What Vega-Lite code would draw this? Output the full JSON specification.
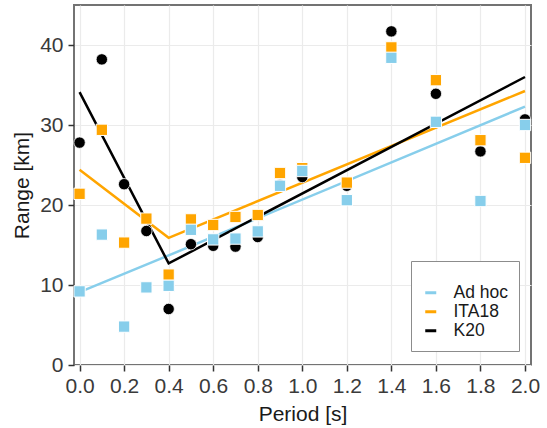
{
  "$schema": "https://vega.github.io/schema/vega-lite/v6.json",
  "width": 457,
  "height": 360,
  "autosize": {"type": "none"},
  "padding": {"left": 74, "top": 5, "right": 16, "bottom": 63},
  "background": "white",
  "config": {
    "font": "Liberation Sans",
    "view": {"stroke": "#737373", "strokeWidth": 2},
    "axis": {
      "domain": false,
      "gridColor": "#ebebeb",
      "tickColor": "#333333",
      "tickSize": 6,
      "tickWidth": 1.5,
      "labelColor": "#3a3a3a",
      "labelFontSize": 21,
      "titleFontSize": 21,
      "titleFontWeight": "normal",
      "titleColor": "#1a1a1a"
    }
  },
  "datasets": {
    "pts": [
      {"period": 0.0, "model": "K20", "range": 27.8},
      {"period": 0.1, "model": "K20", "range": 38.2},
      {"period": 0.2, "model": "K20", "range": 22.6},
      {"period": 0.3, "model": "K20", "range": 16.75},
      {"period": 0.4, "model": "K20", "range": 7.0},
      {"period": 0.5, "model": "K20", "range": 15.1},
      {"period": 0.6, "model": "K20", "range": 14.9},
      {"period": 0.7, "model": "K20", "range": 14.8},
      {"period": 0.8, "model": "K20", "range": 16.0},
      {"period": 0.9, "model": "K20", "range": 22.5},
      {"period": 1.0, "model": "K20", "range": 23.5},
      {"period": 1.2, "model": "K20", "range": 22.4},
      {"period": 1.4, "model": "K20", "range": 41.7},
      {"period": 1.6, "model": "K20", "range": 33.9},
      {"period": 1.8, "model": "K20", "range": 26.7},
      {"period": 2.0, "model": "K20", "range": 30.7},
      {"period": 0.0, "model": "ITA18", "range": 21.4},
      {"period": 0.1, "model": "ITA18", "range": 29.4},
      {"period": 0.2, "model": "ITA18", "range": 15.3},
      {"period": 0.3, "model": "ITA18", "range": 18.3},
      {"period": 0.4, "model": "ITA18", "range": 11.3},
      {"period": 0.5, "model": "ITA18", "range": 18.2},
      {"period": 0.6, "model": "ITA18", "range": 17.5},
      {"period": 0.7, "model": "ITA18", "range": 18.5},
      {"period": 0.8, "model": "ITA18", "range": 18.75},
      {"period": 0.9, "model": "ITA18", "range": 24.0},
      {"period": 1.0, "model": "ITA18", "range": 24.6},
      {"period": 1.2, "model": "ITA18", "range": 22.8},
      {"period": 1.4, "model": "ITA18", "range": 39.7},
      {"period": 1.6, "model": "ITA18", "range": 35.6},
      {"period": 1.8, "model": "ITA18", "range": 28.1},
      {"period": 2.0, "model": "ITA18", "range": 25.9},
      {"period": 0.0, "model": "Ad hoc", "range": 9.2},
      {"period": 0.1, "model": "Ad hoc", "range": 16.3},
      {"period": 0.2, "model": "Ad hoc", "range": 4.8},
      {"period": 0.3, "model": "Ad hoc", "range": 9.7},
      {"period": 0.4, "model": "Ad hoc", "range": 9.9},
      {"period": 0.5, "model": "Ad hoc", "range": 16.9},
      {"period": 0.6, "model": "Ad hoc", "range": 15.7},
      {"period": 0.7, "model": "Ad hoc", "range": 15.8},
      {"period": 0.8, "model": "Ad hoc", "range": 16.7},
      {"period": 0.9, "model": "Ad hoc", "range": 22.4},
      {"period": 1.0, "model": "Ad hoc", "range": 24.25},
      {"period": 1.2, "model": "Ad hoc", "range": 20.6},
      {"period": 1.4, "model": "Ad hoc", "range": 38.4},
      {"period": 1.6, "model": "Ad hoc", "range": 30.4},
      {"period": 1.8, "model": "Ad hoc", "range": 20.5},
      {"period": 2.0, "model": "Ad hoc", "range": 30.0}
    ],
    "fits": [
      {"period": 0.0, "model": "Ad hoc", "fit": 9.1},
      {"period": 0.4, "model": "Ad hoc", "fit": 13.7},
      {"period": 2.0, "model": "Ad hoc", "fit": 32.3},
      {"period": 0.0, "model": "ITA18", "fit": 24.4},
      {"period": 0.4, "model": "ITA18", "fit": 15.9},
      {"period": 2.0, "model": "ITA18", "fit": 34.25},
      {"period": 0.0, "model": "K20", "fit": 34.1},
      {"period": 0.4, "model": "K20", "fit": 12.7},
      {"period": 2.0, "model": "K20", "fit": 36.0}
    ]
  },
  "layer": [
    {
      "data": {"name": "fits"},
      "mark": {"type": "line", "strokeWidth": 2.5},
      "encoding": {
        "x": {
          "field": "period", "type": "quantitative",
          "scale": {"domain": [-0.025, 2.027], "nice": false, "zero": false},
          "axis": {
            "title": "Period [s]",
            "values": [0, 0.1, 0.2, 0.3, 0.4, 0.5, 0.6, 0.7, 0.8, 0.9, 1.0, 1.1, 1.2, 1.3, 1.4, 1.5, 1.6, 1.7, 1.8, 1.9, 2.0],
            "labelExpr": "round(datum.value*10) % 2 === 0 ? format(datum.value, '.1f') : ''",
            "tickOpacity": {"condition": {"test": "round(datum.value*10) % 2 !== 0", "value": 0}, "value": 1},
            "gridWidth": {"condition": {"test": "round(datum.value*10) % 2 !== 0", "value": 0.8}, "value": 1.2},
            "labelPadding": 4,
            "titlePadding": 7
          }
        },
        "y": {
          "field": "fit", "type": "quantitative",
          "scale": {"domain": [0, 45], "nice": false},
          "axis": {
            "title": "Range [km]",
            "values": [0, 5, 10, 15, 20, 25, 30, 35, 40, 45],
            "labelExpr": "datum.value % 10 === 0 ? datum.value : ''",
            "tickOpacity": {"condition": {"test": "datum.value % 10 !== 0", "value": 0}, "value": 1},
            "gridWidth": {"condition": {"test": "datum.value % 10 !== 0", "value": 0.8}, "value": 1.2},
            "labelPadding": 5,
            "titlePadding": 7
          }
        },
        "color": {
          "field": "model", "type": "nominal",
          "scale": {"domain": ["Ad hoc", "ITA18", "K20"], "range": ["#87CEEB", "#FFA500", "#000000"]},
          "legend": {
            "title": " ",
            "titleFontSize": 9,
            "titlePadding": 3,
            "orient": "none",
            "legendX": 337,
            "legendY": 256,
            "padding": 11,
            "symbolType": "stroke",
            "symbolSize": 121,
            "symbolStrokeWidth": 3,
            "labelFontSize": 17.5,
            "labelColor": "#1a1a1a",
            "labelOffset": 14,
            "rowPadding": 0,
            "strokeColor": "#8c8c8c",
            "fillColor": "white",
            "cornerRadius": 0
          }
        },
        "detail": {"field": "model"}
      }
    },
    {
      "data": {"name": "pts"},
      "transform": [{"filter": "datum.model === 'K20'"}],
      "mark": {"type": "point", "shape": "circle", "filled": true, "size": 130, "fill": "#000000", "stroke": "white", "strokeWidth": 0.8, "opacity": 1},
      "encoding": {
        "x": {"field": "period", "type": "quantitative"},
        "y": {"field": "range", "type": "quantitative"}
      }
    },
    {
      "data": {"name": "pts"},
      "transform": [{"filter": "datum.model === 'ITA18'"}],
      "mark": {"type": "point", "shape": "square", "filled": true, "size": 128, "fill": "#FFA500", "stroke": "white", "strokeWidth": 1, "opacity": 1},
      "encoding": {
        "x": {"field": "period", "type": "quantitative"},
        "y": {"field": "range", "type": "quantitative"}
      }
    },
    {
      "data": {"name": "pts"},
      "transform": [{"filter": "datum.model === 'Ad hoc'"}],
      "mark": {"type": "point", "shape": "square", "filled": true, "size": 128, "fill": "#87CEEB", "stroke": "white", "strokeWidth": 1, "opacity": 1},
      "encoding": {
        "x": {"field": "period", "type": "quantitative"},
        "y": {"field": "range", "type": "quantitative"}
      }
    }
  ]
}
